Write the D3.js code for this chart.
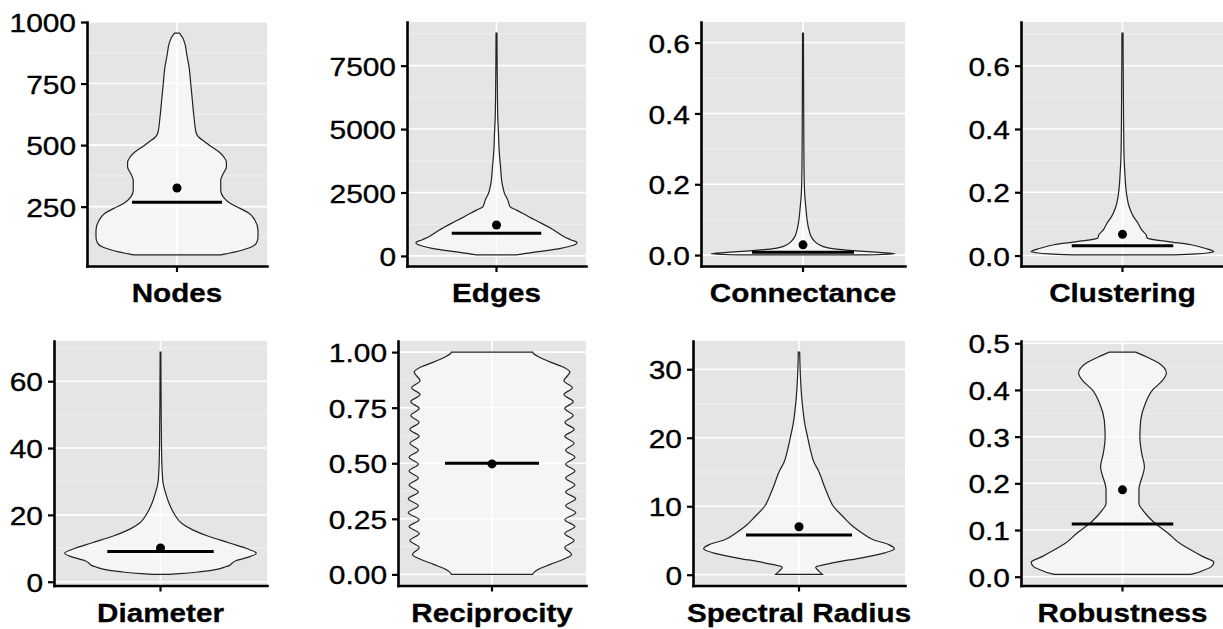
<!DOCTYPE html>
<html><head><meta charset="utf-8">
<script src="https://cdn.jsdelivr.net/npm/d3@7"></script>
<style>body{margin:0;background:#fff}svg{display:block}</style>
</head><body>
<svg id="c" width="1223" height="629"></svg>
<script>
// ---------- data ----------
const metrics = ["Nodes","Edges","Connectance","Clustering","Diameter","Reciprocity","Spectral Radius","Robustness"];

// violin outlines: [value, relative half-width]
const nodesDensity = [[54,0.54],[58,0.6],[66,0.72],[75,0.82],[88,0.93],[102,0.98],[125,1.0],[155,1.0],[196,0.96],[223,0.89],[243,0.78],[263,0.66],[290,0.57],[317,0.54],[357,0.54],[384,0.57],[411,0.61],[431,0.61],[451,0.58],[472,0.52],[492,0.43],[512,0.35],[532,0.27],[546,0.24],[613,0.21],[680,0.19],[748,0.17],[815,0.15],[869,0.12],[909,0.1],[936,0.07],[955,0.03]];
const edgesDensity = [[40,0.25],[100,0.36],[170,0.52],[301,0.8],[420,0.95],[524,1.0],[640,0.92],[759,0.84],[1021,0.71],[1283,0.56],[1545,0.4],[1806,0.25],[1937,0.17],[2199,0.14],[2461,0.1],[2853,0.07],[3508,0.05],[4162,0.033],[4817,0.025],[5471,0.016],[6126,0.012],[7435,0.008],[8783,0.006]];
const connectanceDensity = [[0.0005,0.7],[0.004,1.0],[0.0075,0.83],[0.012,0.58],[0.017,0.36],[0.024,0.22],[0.038,0.13],[0.052,0.09],[0.071,0.065],[0.099,0.045],[0.137,0.03],[0.174,0.018],[0.249,0.011],[0.436,0.007],[0.627,0.005]];
const clusteringDensity = [[0.002,0.55],[0.005,0.8],[0.009,0.95],[0.0126,1.0],[0.023,0.9],[0.034,0.75],[0.044,0.5],[0.055,0.27],[0.065,0.26],[0.081,0.21],[0.102,0.17],[0.123,0.12],[0.154,0.073],[0.196,0.044],[0.259,0.026],[0.333,0.015],[0.49,0.01],[0.703,0.006]];
const diameterDensity = [[2.2,0.08],[2.4,0.2],[3.0,0.42],[3.8,0.6],[4.5,0.68],[4.9,0.72],[5.4,0.74],[6.2,0.78],[7.2,0.9],[8.5,1.0],[9.7,0.92],[11.6,0.72],[13.6,0.5],[15.6,0.33],[17.5,0.22],[20.5,0.14],[23.4,0.09],[26.4,0.055],[29.4,0.028],[33.3,0.017],[41,0.01],[51,0.007],[68.7,0.004]];
const reciprocityDensity = [[0.0,0.48],[0.01,0.5],[0.025,0.56],[0.045,0.69],[0.067,0.84],[0.09,0.94],[0.121,0.86],[0.152,0.97],[0.184,0.86],[0.215,0.98],[0.246,0.86],[0.277,0.99],[0.309,0.87],[0.34,0.99],[0.371,0.87],[0.402,0.98],[0.434,0.87],[0.465,0.98],[0.496,0.87],[0.527,0.98],[0.559,0.87],[0.59,0.97],[0.621,0.86],[0.652,0.97],[0.684,0.86],[0.715,0.96],[0.746,0.86],[0.777,0.96],[0.809,0.85],[0.84,0.95],[0.871,0.85],[0.91,0.92],[0.933,0.84],[0.955,0.69],[0.978,0.555],[0.99,0.5],[1.0,0.48]];
const spectralDensity = [[0.05,0.245],[0.5,0.21],[1.1,0.175],[1.5,0.28],[1.9,0.42],[2.4,0.63],[3.2,0.9],[3.8,1.0],[4.4,0.94],[5.1,0.78],[6.1,0.66],[7.0,0.57],[8.5,0.46],[10.0,0.36],[11.4,0.31],[12.4,0.28],[13.5,0.25],[14.3,0.23],[15.3,0.2],[16.3,0.16],[18.2,0.12],[20.1,0.09],[22.1,0.06],[24,0.042],[26,0.028],[28.9,0.015],[32.5,0.007]];
const robustnessDensity = [[0.005,0.74],[0.007,0.79],[0.014,0.89],[0.021,0.97],[0.031,1.0],[0.043,0.88],[0.057,0.75],[0.071,0.63],[0.093,0.5],[0.114,0.36],[0.129,0.28],[0.143,0.22],[0.157,0.18],[0.186,0.18],[0.236,0.24],[0.264,0.21],[0.3,0.19],[0.336,0.2],[0.371,0.25],[0.4,0.33],[0.421,0.44],[0.436,0.48],[0.457,0.4],[0.471,0.26],[0.481,0.145]];
const densities = [nodesDensity, edgesDensity, connectanceDensity, clusteringDensity, diameterDensity, reciprocityDensity, spectralDensity, robustnessDensity];

const means   = [326, 1217, 0.029, 0.067, 10.1, 0.497, 7.0, 0.186];
const medians = [268, 890, 0.008, 0.031, 9.06, 0.5, 5.8, 0.113];

const tickValues = [
  [250,500,750,1000],
  [0,2500,5000,7500],
  [0,0.2,0.4,0.6],
  [0,0.2,0.4,0.6],
  [0,20,40,60],
  [0,0.25,0.5,0.75,1],
  [0,10,20,30],
  [0,0.1,0.2,0.3,0.4,0.5]
];
const tickLabels = [
  ["250","500","750","1000"],
  ["0","2500","5000","7500"],
  ["0.0","0.2","0.4","0.6"],
  ["0.0","0.2","0.4","0.6"],
  ["0","20","40","60"],
  ["0.00","0.25","0.50","0.75","1.00"],
  ["0","10","20","30"],
  ["0.0","0.1","0.2","0.3","0.4","0.5"]
];

// ---------- layout ----------
const layout = [
  {left:87,  right:267,  top:22,  bottom:266},
  {left:407, right:586,  top:22,  bottom:266},
  {left:701, right:905,  top:22,  bottom:266},
  {left:1021,right:1224, top:22,  bottom:266},
  {left:54,  right:267,  top:341, bottom:585.5},
  {left:398, right:586,  top:341, bottom:585.5},
  {left:693, right:905,  top:341, bottom:585.5},
  {left:1021,right:1224, top:341, bottom:585.5}
];
const FONT = "'Liberation Sans', Arial, Helvetica, sans-serif";

const svg = d3.select("#c");

metrics.forEach((name, i) => {
  const L = layout[i], dens = densities[i];
  const vmin = d3.min(dens, d => d[0]), vmax = d3.max(dens, d => d[0]);
  const pad = (vmax - vmin) * 0.05;
  const y = d3.scaleLinear().domain([vmin - pad, vmax + pad]).range([L.bottom, L.top]);
  const x = d3.scaleBand().domain([name]).range([L.left, L.right]).paddingInner(0).paddingOuter(0);
  const bw = x.bandwidth();
  const cx = x(name) + bw / 2;
  const g = svg.append("g");

  g.append("rect").attr("x", L.left).attr("y", L.top)
    .attr("width", L.right - L.left).attr("height", L.bottom - L.top)
    .attr("fill", "#E5E5E5");

  // minor grid
  const tv = tickValues[i];
  const step = tv[1] - tv[0];
  const [d0, d1] = y.domain();
  const minors = [tv[0] - step / 2, ...tv.map(v => v + step / 2)].filter(v => v > d0 && v < d1);
  g.selectAll(".minor").data(minors).join("line")
    .attr("x1", L.left).attr("x2", L.right)
    .attr("y1", d => y(d)).attr("y2", d => y(d))
    .attr("stroke", "#F3F3F3").attr("stroke-width", 0.8);
  // major grid
  g.selectAll(".major").data(tv).join("line")
    .attr("x1", L.left).attr("x2", L.right)
    .attr("y1", d => y(d)).attr("y2", d => y(d))
    .attr("stroke", "#FFFFFF").attr("stroke-width", 1.6);
  g.append("line").attr("x1", cx).attr("x2", cx).attr("y1", L.top).attr("y2", L.bottom)
    .attr("stroke", "#FFFFFF").attr("stroke-width", 1.6);

  // violin
  const hw = 0.45 * bw;
  const area = d3.area()
    .y(d => y(d[0]))
    .x0(d => cx - d[1] * hw)
    .x1(d => cx + d[1] * hw)
    .curve(d3.curveMonotoneY);
  g.append("path").datum(dens).attr("d", area)
    .attr("fill", "#FFFFFF").attr("fill-opacity", 0.6)
    .attr("stroke", "#222222").attr("stroke-width", 1.2);

  // median line
  g.append("line")
    .attr("x1", cx - 0.25 * bw).attr("x2", cx + 0.25 * bw)
    .attr("y1", y(medians[i])).attr("y2", y(medians[i]))
    .attr("stroke", "#000").attr("stroke-width", 3);
  // mean point
  g.append("circle").attr("cx", cx).attr("cy", y(means[i])).attr("r", 4.5).attr("fill", "#000");

  // y axis
  const ya = g.append("g").attr("transform", `translate(${L.left},0)`)
    .call(d3.axisLeft(y).tickValues(tv).tickSize(6).tickSizeOuter(0).tickFormat((d, j) => tickLabels[i][j]));
  ya.select(".domain").attr("stroke", "#000").attr("stroke-width", 2.6).attr("stroke-linecap", "square");
  ya.selectAll(".tick line").attr("stroke", "#000").attr("stroke-width", 2.2);
  ya.selectAll(".tick text")
    .attr("x", null).attr("dy", null)
    .attr("transform", "translate(-11,9.6) scale(1.15,1)")
    .attr("fill", "#000").attr("stroke", "#000").attr("stroke-width", 0.35)
    .style("font-family", FONT).style("font-size", "26px");

  // x axis
  const xa = g.append("g").attr("transform", `translate(0,${L.bottom})`)
    .call(d3.axisBottom(x).tickSize(6).tickSizeOuter(0));
  xa.select(".domain").attr("stroke", "#000").attr("stroke-width", 2.6).attr("stroke-linecap", "square");
  xa.selectAll(".tick line").attr("stroke", "#000").attr("stroke-width", 2.2);
  xa.selectAll(".tick text")
    .attr("y", null).attr("dy", null)
    .attr("transform", "translate(0,36) scale(1.12,1)")
    .attr("fill", "#000").attr("stroke", "#000").attr("stroke-width", 0.3)
    .style("font-family", FONT).style("font-size", "26.5px").style("font-weight", "bold");
});
</script>
</body></html>
